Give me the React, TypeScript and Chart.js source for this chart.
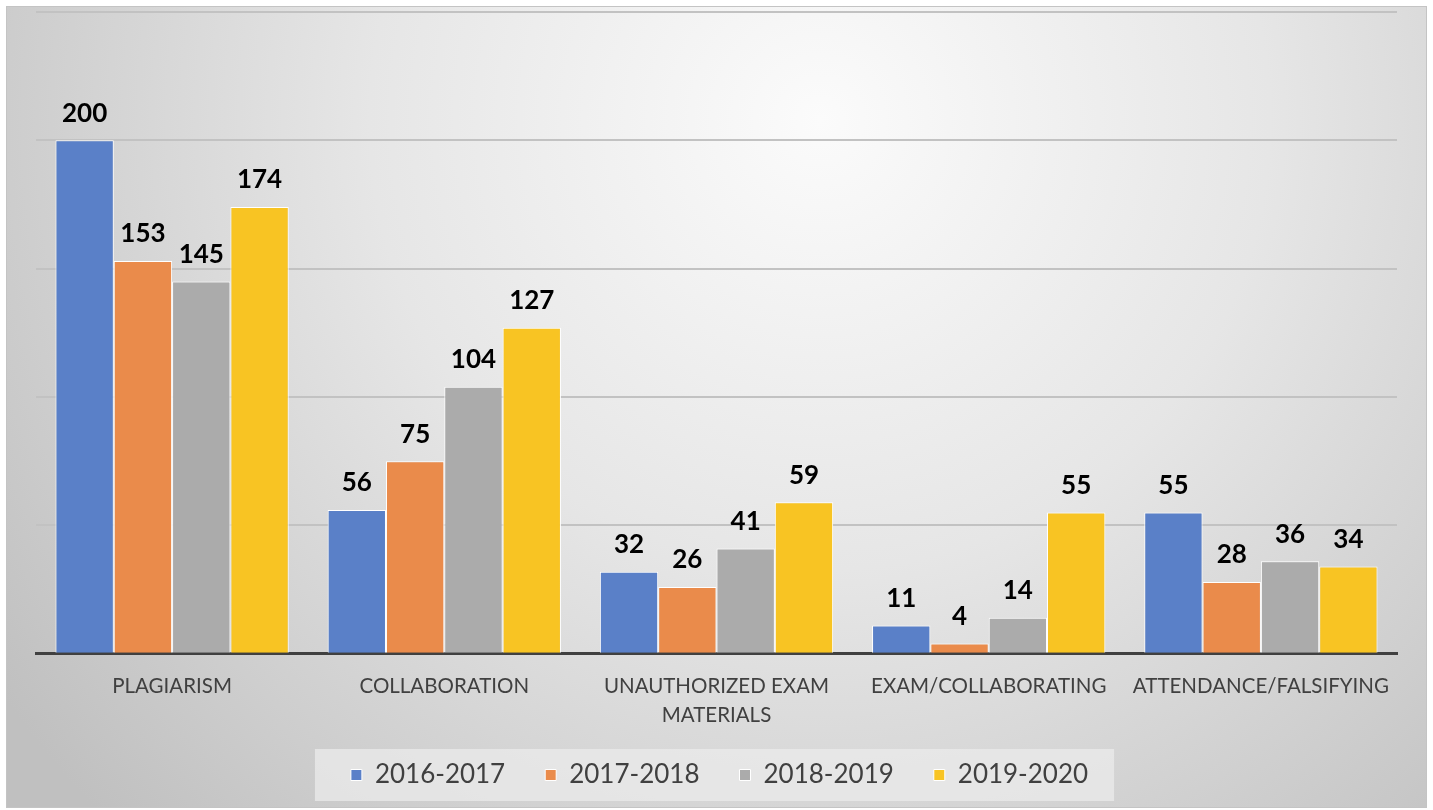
import React, { useEffect, useRef } from "react";
import { Chart, registerables } from "chart.js";

Chart.register(...registerables);

const categories: (string | string[])[] = [
  "PLAGIARISM",
  "COLLABORATION",
  ["UNAUTHORIZED EXAM", "MATERIALS"],
  "EXAM/COLLABORATING",
  "ATTENDANCE/FALSIFYING",
];
const seriesNames = ["2016-2017", "2017-2018", "2018-2019", "2019-2020"];
const values2016 = [200, 56, 32, 11, 55];
const values2017 = [153, 75, 26, 4, 28];
const values2018 = [145, 104, 41, 14, 36];
const values2019 = [174, 127, 59, 55, 34];
const seriesColors = ["#5a80c8", "#ea8b4b", "#ababab", "#f8c423"];
const yTicks = [0, 50, 100, 150, 200, 250];

const FONT = "Lato, 'Open Sans', sans-serif";
const LEGEND_CENTER_Y = 775;

const legendShiftPlugin = {
  id: "legendShift",
  afterUpdate(chart: any) {
    const lg = chart.legend;
    if (!lg || !lg.legendHitBoxes || !lg.legendHitBoxes.length) return;
    const hb0 = lg.legendHitBoxes[0];
    const dy = LEGEND_CENTER_Y - (hb0.top + hb0.height / 2);
    lg.top += dy;
    lg.bottom += dy;
    lg.legendHitBoxes.forEach((h: any) => {
      h.top += dy;
      h.left += 3;
    });
    lg.left += 3;
    lg.right += 3;
  },
};

const backgroundPlugin = {
  id: "bgPlugin",
  beforeDraw(chart: any) {
    const { ctx, width, height } = chart;
    ctx.save();
    ctx.fillStyle = "#ffffff";
    ctx.fillRect(0, 0, width, height);
    const g = ctx.createRadialGradient(820, 120, 0, 820, 120, 1000);
    g.addColorStop(0, "#fbfbfb");
    g.addColorStop(0.45, "#e6e6e6");
    g.addColorStop(1, "#c0c0c0");
    ctx.fillStyle = g;
    ctx.fillRect(6, 6, 1421, 802);
    ctx.strokeStyle = "#c4c4c4";
    ctx.lineWidth = 1;
    ctx.strokeRect(6.5, 6.5, 1420, 801);
    // legend box
    const lg = chart.legend;
    if (lg && lg.legendHitBoxes && lg.legendHitBoxes.length) {
      const hb = lg.legendHitBoxes;
      const minX = Math.min(...hb.map((h: any) => h.left));
      const maxX = Math.max(...hb.map((h: any) => h.left + h.width));
      const cy = hb[0].top + hb[0].height / 2;
      ctx.fillStyle = "rgba(235,235,235,0.75)";
      ctx.fillRect(minX - 36, cy - 26, maxX - minX + 62, 52);
    }
    ctx.restore();
  },
};

const labelPlugin = {
  id: "valueLabels",
  afterDatasetsDraw(chart: any) {
    const { ctx } = chart;
    ctx.save();
    ctx.font = `bold 26px ${FONT}`;
    ctx.fillStyle = "#000000";
    ctx.textAlign = "center";
    ctx.textBaseline = "middle";
    chart.data.datasets.forEach((ds: any, i: number) => {
      const meta = chart.getDatasetMeta(i);
      meta.data.forEach((bar: any, j: number) => {
        ctx.fillText(String(ds.data[j]), bar.x, bar.y - 27);
      });
    });
    ctx.restore();
  },
};

export default function App() {
  const ref = useRef<HTMLCanvasElement>(null);
  useEffect(() => {
    document.body.style.margin = "0";
    const allSeries = [values2016, values2017, values2018, values2019];
    const chart = new Chart(ref.current!, {
      type: "bar",
      data: {
        labels: categories,
        datasets: allSeries.map((d, i) => ({
          label: seriesNames[i],
          data: d,
          backgroundColor: seriesColors[i],
          borderColor: "#ffffff",
          borderWidth: 1,
          categoryPercentage: 0.857,
          barPercentage: 1,
        })),
      },
      options: {
        animation: false,
        responsive: true,
        maintainAspectRatio: false,
        layout: { padding: { left: 36, right: 36, top: 12, bottom: -6 } },
        scales: {
          x: {
            grid: { display: false },
            border: { display: true, color: "#404040", width: 3 },
            ticks: {
              color: "#404040",
              font: { family: FONT, size: 20.5, lineHeight: 1.42 },
              padding: 10,
              maxRotation: 0,
              autoSkip: false,
            },
          },
          y: {
            min: 0,
            max: 250,
            afterBuildTicks(axis: any) {
              axis.ticks = yTicks.map((v) => ({ value: v }));
            },
            grid: { color: "#c2c2c2", lineWidth: 2, drawTicks: false },
            border: { display: false },
            ticks: { display: false },
          },
        },
        plugins: {
          legend: {
            position: "bottom",
            labels: {
              boxWidth: 11,
              boxHeight: 11,
              color: "#404040",
              font: { family: FONT, size: 26 },
              padding: 40,
            },
          },
          tooltip: { enabled: false },
        },
      },
      plugins: [legendShiftPlugin, backgroundPlugin, labelPlugin],
    } as any);
    return () => chart.destroy();
  }, []);
  return (
    <div style={{ position: "relative", width: 1433, height: 810 }}>
      <canvas ref={ref} />
    </div>
  );
}
